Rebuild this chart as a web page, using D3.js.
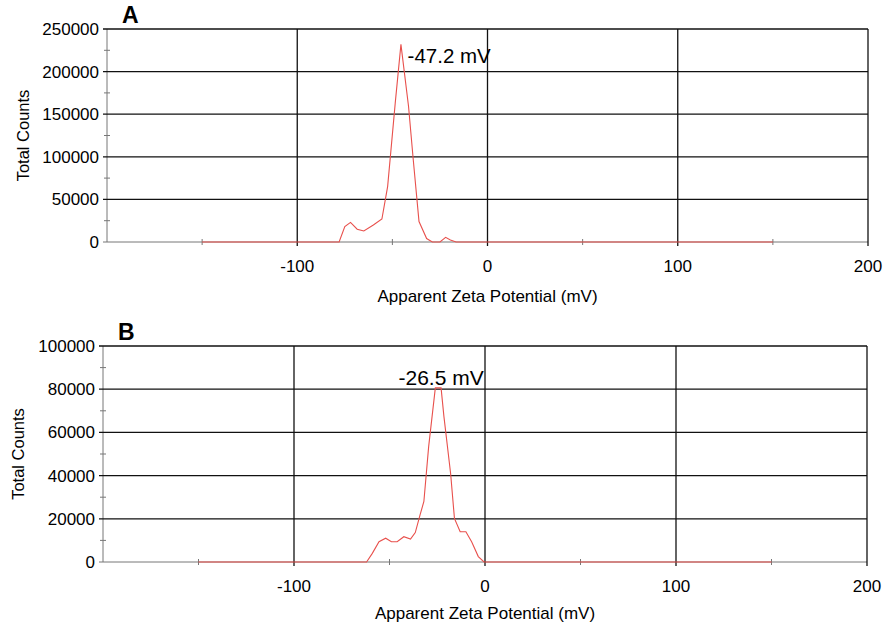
<!DOCTYPE html>
<html>
<head>
<meta charset="utf-8">
<script src="https://cdn.jsdelivr.net/npm/d3@7"></script>
<style>
  body { margin: 0; background: #fff; }
  svg { display: block; }
</style>
</head>
<body>
<div id="chart"></div>
<script>
// Zeta potential distributions
const zetaA = [-150, -78, -75, -72, -68.5, -65, -60, -55.5, -52.5, -48.5, -45.5, -41.5, -39, -36, -32, -29, -25, -22, -19.5, -16.5, 150];
const countsA = [0, 0, 18000, 23000, 15000, 13000, 20000, 27000, 65000, 163000, 232000, 159000, 96000, 24000, 4000, 0, 0, 5500, 2300, 0, 0];

const zetaB = [-150, -62, -59, -55.5, -52, -49, -46, -42.5, -39, -36.5, -34, -32, -29.5, -26, -23, -21.5, -18, -16, -13, -10, -7, -3.5, -0.5, 150];
const countsB = [0, 0, 4000, 9400, 11000, 9400, 9400, 11700, 10600, 13600, 21800, 28000, 53400, 80600, 80600, 67300, 41000, 20200, 14000, 14000, 9400, 2500, 0, 0];

const xMajorTicks = [-100, 0, 100, 200];
const xMinorTicks = [-150, -50, 50, 150];
const yTicksA = [0, 50000, 100000, 150000, 200000, 250000];
const yTicksB = [0, 20000, 40000, 60000, 80000, 100000];

const font = "'Liberation Sans', Arial, sans-serif";
const colorLine = "#e8504c";
const colorGrid = "#111";
const colorAxis = "#777";

const svg = d3.select("#chart")
    .append("svg")
        .attr("width", 889)
        .attr("height", 630);

function drawPanel(p) {
    var x = d3.scaleLinear().domain([-200, 200]).range([p.left, p.right]);
    var y = d3.scaleLinear().domain([0, p.ymax]).range([p.bottom, p.top]);
    var g = svg.append("g");

    // Minor ticks on the y axis (halfway between labels)
    var step = p.yTicks[1] - p.yTicks[0];
    var yMinor = p.yTicks.slice(0, -1).map(v => v + step / 2);
    g.selectAll(".yminor")
        .data(yMinor)
        .enter()
        .append("line")
        .attr("x1", p.left - 3).attr("x2", p.left + 3)
        .attr("y1", d => y(d)).attr("y2", d => y(d))
        .attr("stroke", colorAxis);

    // Minor ticks on the x axis
    g.selectAll(".xminor")
        .data(xMinorTicks)
        .enter()
        .append("line")
        .attr("x1", d => x(d)).attr("x2", d => x(d))
        .attr("y1", p.bottom - 3).attr("y2", p.bottom + 3)
        .attr("stroke", colorAxis);

    // Axis lines (thin grey)
    g.append("line")
        .attr("x1", p.left).attr("x2", p.left)
        .attr("y1", p.top).attr("y2", p.bottom)
        .attr("stroke", colorAxis);
    g.append("line")
        .attr("x1", p.left - 4).attr("x2", p.right)
        .attr("y1", p.bottom).attr("y2", p.bottom)
        .attr("stroke", colorAxis);

    // Horizontal gridlines
    g.selectAll(".hgrid")
        .data(p.yTicks.filter(d => d > 0))
        .enter()
        .append("line")
        .attr("x1", p.left - 4).attr("x2", p.right)
        .attr("y1", d => y(d)).attr("y2", d => y(d))
        .attr("stroke", colorGrid)
        .attr("stroke-width", 1.3);

    // Vertical gridlines
    g.selectAll(".vgrid")
        .data(xMajorTicks)
        .enter()
        .append("line")
        .attr("x1", d => x(d)).attr("x2", d => x(d))
        .attr("y1", p.top).attr("y2", p.bottom + 4)
        .attr("stroke", colorGrid)
        .attr("stroke-width", 1.3);

    // Y tick labels
    g.selectAll(".ylab")
        .data(p.yTicks)
        .enter()
        .append("text")
        .attr("font-family", font)
        .style("font-size", "17px")
        .attr("text-anchor", "end")
        .attr("x", p.left - 8)
        .attr("y", d => y(d) + 6)
        .text(d => d);

    // X tick labels
    g.selectAll(".xlab")
        .data(xMajorTicks)
        .enter()
        .append("text")
        .attr("font-family", font)
        .style("font-size", "17px")
        .attr("text-anchor", "middle")
        .attr("x", d => x(d))
        .attr("y", p.bottom + 30)
        .text(d => d);

    // The distribution
    var pts = p.zeta.map((v, i) => ({ x: v, y: p.counts[i] }));
    g.append("path")
        .datum(pts)
        .attr("fill", "none")
        .attr("stroke", colorLine)
        .attr("stroke-width", 1.1)
        .attr("d", d3.line().x(d => x(d.x)).y(d => y(d.y)));

    // Peak label
    g.append("text")
        .attr("font-family", font)
        .style("font-size", p.peakSize)
        .attr("text-anchor", p.peakAnchor)
        .attr("x", x(p.peakPos[0]))
        .attr("y", y(p.peakPos[1]))
        .text(p.peakText);

    // Axis titles
    g.append("text")
        .attr("font-family", font)
        .style("font-size", "17px")
        .attr("text-anchor", "middle")
        .attr("x", (p.left + p.right) / 2)
        .attr("y", p.bottom + p.xTitleOffset)
        .text("Apparent Zeta Potential (mV)");

    g.append("text")
        .attr("font-family", font)
        .style("font-size", "16.5px")
        .attr("text-anchor", "middle")
        .attr("transform", `translate(${p.yTitleX},${(p.top + p.bottom) / 2}) rotate(-90)`)
        .text("Total Counts");

    // Panel letter
    g.append("text")
        .attr("font-family", font)
        .style("font-size", "23px")
        .style("font-weight", "bold")
        .attr("x", p.left + 15)
        .attr("y", p.top - 6)
        .text(p.letter);
}

drawPanel({
    letter: "A", left: 107, right: 868, top: 29, bottom: 242,
    ymax: 250000, yTicks: yTicksA, zeta: zetaA, counts: countsA,
    peakText: "-47.2 mV", peakPos: [-42, 210000], peakAnchor: "start", peakSize: "20.5px",
    xTitleOffset: 60, yTitleX: 29
});

drawPanel({
    letter: "B", left: 103, right: 867, top: 346, bottom: 562,
    ymax: 100000, yTicks: yTicksB, zeta: zetaB, counts: countsB,
    peakText: "-26.5 mV", peakPos: [-23, 82000], peakAnchor: "middle", peakSize: "21px",
    xTitleOffset: 57, yTitleX: 24
});
</script>
</body>
</html>
